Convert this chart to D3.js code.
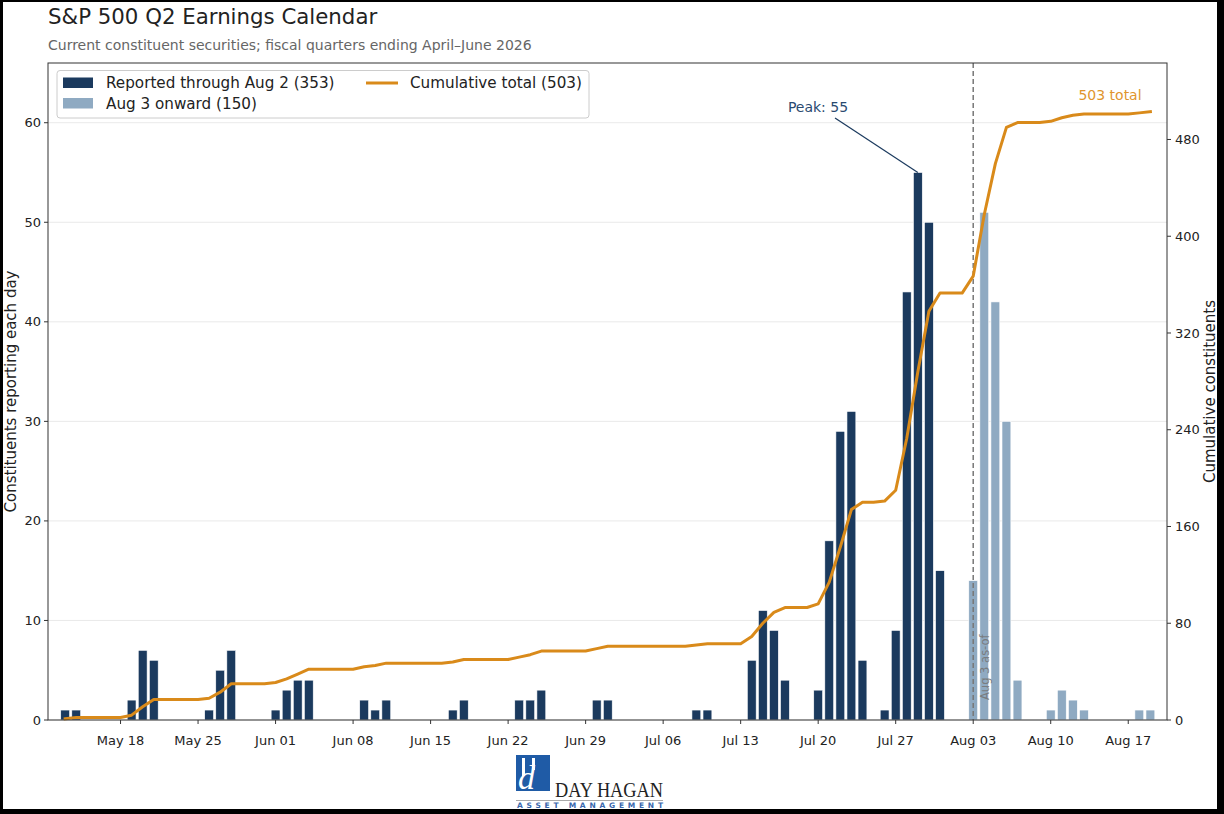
<!DOCTYPE html>
<html><head><meta charset="utf-8">
<script src="https://cdn.jsdelivr.net/npm/d3@7"></script>
<style>
html,body{margin:0;padding:0;background:#000;}
svg{display:block;}
text{font-family:"DejaVu Sans",sans-serif;}
</style></head><body>
<svg id="chart" width="1224" height="814"></svg>
<script>
// ---------- DATA ----------
const reportedDates = ["2026-05-13","2026-05-14","2026-05-19","2026-05-20","2026-05-21",
  "2026-05-26","2026-05-27","2026-05-28","2026-06-01","2026-06-02","2026-06-03","2026-06-04",
  "2026-06-09","2026-06-10","2026-06-11","2026-06-17","2026-06-18","2026-06-23","2026-06-24","2026-06-25",
  "2026-06-30","2026-07-01","2026-07-09","2026-07-10","2026-07-14","2026-07-15","2026-07-16","2026-07-17",
  "2026-07-20","2026-07-21","2026-07-22","2026-07-23","2026-07-24",
  "2026-07-26","2026-07-27","2026-07-28","2026-07-29","2026-07-30","2026-07-31"];
const reportedCounts = [1,1,2,7,6, 1,5,7, 1,3,4,4, 2,1,2, 1,2, 2,2,3, 2,2, 1,1, 6,11,9,4, 3,18,29,31,6, 1,9,43,55,50,15];
const upcomingDates = ["2026-08-03","2026-08-04","2026-08-05","2026-08-06","2026-08-07",
  "2026-08-10","2026-08-11","2026-08-12","2026-08-13","2026-08-18","2026-08-19"];
const upcomingCounts = [14,51,42,30,4, 1,3,2,1, 1,1];
const xTickDates = ["2026-05-18","2026-05-25","2026-06-01","2026-06-08","2026-06-15","2026-06-22",
  "2026-06-29","2026-07-06","2026-07-13","2026-07-20","2026-07-27","2026-08-03","2026-08-10","2026-08-17"];
const leftTicks = [0,10,20,30,40,50,60];
const rightTicks = [0,80,160,240,320,400,480];
const asOfDate = "2026-08-03";
const titleText = "S&P 500 Q2 Earnings Calendar";
const subtitleText = "Current constituent securities; fiscal quarters ending April\u2013June 2026";
const legendLabels = ["Reported through Aug 2 (353)", "Aug 3 onward (150)", "Cumulative total (503)"];

// ---------- SETUP ----------
const W = 1224, H = 814;
const L = 48, R = 1167, T = 63, B = 720;
const NAVY = "#1b3a5e", LIGHT = "#8faac2", ORANGE = "#d98a1a";
const svg = d3.select("#chart");
svg.append("rect").attr("x",0).attr("y",0).attr("width",W).attr("height",H).attr("fill","#000");
svg.append("rect").attr("x",3).attr("y",2).attr("width",1214).attr("height",807).attr("fill","#fff");

const parse = d3.utcParse("%Y-%m-%d");
const DAY = 864e5;
const rep = reportedDates.map((d,i)=>({date:parse(d), v:reportedCounts[i]}));
const upc = upcomingDates.map((d,i)=>({date:parse(d), v:upcomingCounts[i]}));
const all = rep.concat(upc);
const first = d3.min(all, d=>d.date), last = d3.max(all, d=>d.date);

const x = d3.scaleUtc().domain([new Date(+first - 1.55*DAY), new Date(+last + 1.5*DAY)]).range([L,R]);
const y = d3.scaleLinear().domain([0, d3.max(all,d=>d.v)*1.2]).range([B,T]);
const totalAll = d3.sum(all, d=>d.v);
const y2 = d3.scaleLinear().domain([0, totalAll*1.08]).range([B,T]);

// gridlines
svg.append("g").selectAll("line").data(leftTicks).join("line")
  .attr("x1",L).attr("x2",R).attr("y1",d=>y(d)).attr("y2",d=>y(d))
  .attr("stroke","#e6e6e6").attr("stroke-width",0.9);

// bars
const halfW = 0.4*DAY;
function bars(data, color){
  svg.append("g").selectAll("rect").data(data).join("rect")
    .attr("x", d=>x(new Date(+d.date - halfW)))
    .attr("width", d=>x(new Date(+d.date + halfW)) - x(new Date(+d.date - halfW)))
    .attr("y", d=>y(d.v)).attr("height", d=>B - y(d.v))
    .attr("fill", color).attr("stroke","#fff").attr("stroke-width",0.6);
}
bars(rep, NAVY);
bars(upc, LIGHT);

// as-of line
const xa = x(parse(asOfDate));
svg.append("line").attr("x1",xa).attr("x2",xa).attr("y1",T).attr("y2",B)
  .attr("stroke","#777").attr("stroke-width",1.5).attr("stroke-dasharray","5,3");
svg.append("text").attr("transform",`translate(${xa+16},${B-20}) rotate(-90)`)
  .attr("font-size",11.5).attr("fill","#777").attr("fill-opacity",0.9).text("Aug 3 as-of");

// cumulative line (daily)
const countMap = new Map(all.map(d=>[+d.date, d.v]));
const days = d3.utcDay.range(first, new Date(+last + DAY));
const cum = d3.cumsum(days, d=>countMap.get(+d) || 0);
const series = days.map((d,i)=>({date:d, c:cum[i]}));
svg.append("path").datum(series)
  .attr("d", d3.line().x(d=>x(d.date)).y(d=>y2(d.c)))
  .attr("fill","none").attr("stroke",ORANGE).attr("stroke-width",3)
  .attr("stroke-linejoin","round").attr("stroke-linecap","square");

// frame
svg.append("rect").attr("x",L).attr("y",T).attr("width",R-L).attr("height",B-T)
  .attr("fill","none").attr("stroke","#333").attr("stroke-width",1);

// x axis
const xg = svg.append("g");
xTickDates.map(parse).forEach(d=>{
  const xx = x(d);
  xg.append("line").attr("x1",xx).attr("x2",xx).attr("y1",B).attr("y2",B+4).attr("stroke","#333");
  xg.append("text").attr("x",xx).attr("y",B+25).attr("text-anchor","middle")
    .attr("font-size",13).attr("fill","#222").text(d3.utcFormat("%b %d")(d));
});
// left axis
leftTicks.forEach(t=>{
  svg.append("line").attr("x1",L-4).attr("x2",L).attr("y1",y(t)).attr("y2",y(t)).attr("stroke","#333");
  svg.append("text").attr("x",L-7).attr("y",y(t)).attr("dy","0.35em").attr("text-anchor","end")
    .attr("font-size",13).attr("fill","#222").text(t);
});
// right axis
rightTicks.forEach(t=>{
  svg.append("line").attr("x1",R).attr("x2",R+4).attr("y1",y2(t)).attr("y2",y2(t)).attr("stroke","#333");
  svg.append("text").attr("x",R+8).attr("y",y2(t)).attr("dy","0.35em").attr("text-anchor","start")
    .attr("font-size",13).attr("fill","#222").text(t);
});
// axis labels
svg.append("text").attr("transform",`translate(16,${(T+B)/2}) rotate(-90)`).attr("text-anchor","middle")
  .attr("font-size",15).attr("fill","#222").text("Constituents reporting each day");
svg.append("text").attr("transform",`translate(1215,${(T+B)/2}) rotate(-90)`).attr("text-anchor","middle")
  .attr("font-size",15).attr("fill","#222").text("Cumulative constituents");

// title
svg.append("text").attr("x",48).attr("y",24).attr("font-size",21.3).attr("fill","#222").text(titleText);
svg.append("text").attr("x",48).attr("y",50).attr("font-size",14).attr("fill","#666").text(subtitleText);

// peak annotation
const peak = d3.greatest(all, d=>d.v);
svg.append("line").attr("x1",835).attr("y1",118).attr("x2",x(peak.date)).attr("y2",y(peak.v))
  .attr("stroke",NAVY).attr("stroke-width",1.2);
svg.append("text").attr("x",818).attr("y",112).attr("text-anchor","middle")
  .attr("font-size",14).attr("fill","#2a4a70").text("Peak: " + peak.v);

// total annotation
svg.append("text").attr("x",1110).attr("y",100).attr("text-anchor","middle")
  .attr("font-size",14).attr("fill","#e0952e").text(totalAll + " total");

// legend
const lg = svg.append("g");
lg.append("rect").attr("x",57).attr("y",70.5).attr("width",532).attr("height",47.5).attr("rx",3)
  .attr("fill","#fff").attr("fill-opacity",0.9).attr("stroke","#ccc");
lg.append("rect").attr("x",63).attr("y",77.5).attr("width",30).attr("height",10.5).attr("fill",NAVY);
lg.append("rect").attr("x",63).attr("y",98).attr("width",30).attr("height",10.5).attr("fill",LIGHT);
lg.append("line").attr("x1",366).attr("x2",398).attr("y1",83).attr("y2",83).attr("stroke",ORANGE).attr("stroke-width",3);
lg.append("text").attr("x",106).attr("y",88).attr("font-size",15.2).attr("fill","#222").text(legendLabels[0]);
lg.append("text").attr("x",106).attr("y",109).attr("font-size",15.2).attr("fill","#222").text(legendLabels[1]);
lg.append("text").attr("x",410).attr("y",88).attr("font-size",15.2).attr("fill","#222").text(legendLabels[2]);

// logo
const logo = svg.append("g");
const SERIF = "'Liberation Serif','DejaVu Serif',serif";
logo.append("rect").attr("x",516).attr("y",755).attr("width",34).attr("height",36).attr("fill","#1f5ba6");
logo.append("rect").attr("x",522).attr("y",758).attr("width",3).attr("height",18).attr("fill","#fff");
logo.append("rect").attr("x",532).attr("y",758).attr("width",3).attr("height",12).attr("fill","#fff");
logo.append("text").attr("x",518).attr("y",789).style("font-family",SERIF).style("font-style","italic")
  .attr("font-size",34).attr("fill","#fff").text("d");
logo.append("text").attr("x",555).attr("y",797).style("font-family",SERIF)
  .attr("font-size",22).attr("fill","#222").attr("textLength",108).attr("lengthAdjust","spacingAndGlyphs").text("DAY HAGAN");
logo.append("line").attr("x1",516).attr("x2",663).attr("y1",800.5).attr("y2",800.5).attr("stroke","#aaa").attr("stroke-width",1);
logo.append("text").attr("x",517).attr("y",808).attr("font-size",7.5).attr("font-weight","bold")
  .attr("fill","#3a68ad").attr("textLength",146).attr("lengthAdjust","spacing").text("ASSET MANAGEMENT");
</script>
</body></html>
